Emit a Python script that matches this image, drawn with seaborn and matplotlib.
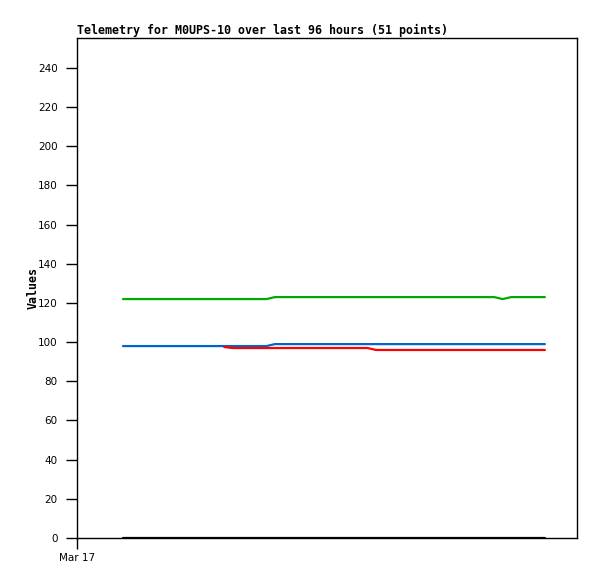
import numpy as np
import pandas as pd
import matplotlib
matplotlib.use("Agg")
import matplotlib.pyplot as plt
import seaborn as sns

# ---- data ----
n_points = 51
hours = [8.83 + i * 1.62 for i in range(n_points)]  # sample times (hours since window start)
green = [122.0] * 18 + [123.0] * 27 + [122.0] + [123.0] * 5
blue = [98.0] * 18 + [99.0] * 33
red = [np.nan] * 12 + [97.5] + [97.0] * 17 + [96.0] * 21
black = [0.0] * 51
series_names = ["s1", "s2", "s3", "s4"]
series_values = [green, blue, red, black]
series_colors = ["#00aa00", "#0066cc", "#ff0000", "#000000"]
y_ticks = list(range(0, 241, 20))
x_tick_label = "Mar 17"
title = "Telemetry for M0UPS-10 over last 96 hours (51 points)"

rows = []
for name, vals in zip(series_names, series_values):
    for h, v in zip(hours, vals):
        rows.append({"hour": h, "value": v, "series": name})
df = pd.DataFrame(rows)

sns.set_style("white")
plt.rcParams["text.color"] = "black"
plt.rcParams["axes.labelcolor"] = "black"
plt.rcParams["xtick.color"] = "black"
plt.rcParams["ytick.color"] = "black"

fig = plt.figure(figsize=(5.97, 5.79), dpi=100)
ax = fig.add_axes([77 / 597, 41 / 579, 500 / 597, 500 / 579])

sns.lineplot(data=df, x="hour", y="value", hue="series",
             palette=dict(zip(series_names, series_colors)),
             linewidth=1.6, legend=False, ax=ax, estimator=None)

ax.set_xlim(0, 96)
ax.set_ylim(0, 255.3)
ax.set_yticks(y_ticks)
ax.set_yticklabels([str(t) for t in y_ticks], fontsize=7.5, family="DejaVu Sans")
ax.set_xticks([0])
ax.set_xticklabels([x_tick_label], fontsize=7.5, family="DejaVu Sans")
ax.tick_params(axis="y", direction="out", length=8, width=1, colors="black", pad=6, left=True)
ax.tick_params(axis="x", direction="out", length=8, width=1, colors="black", pad=3, bottom=True)
for s in ax.spines.values():
    s.set_color("black")
    s.set_linewidth(1)
ax.set_xlabel("")
ax.set_ylabel("Values", fontsize=8.4, family="DejaVu Sans Mono", fontweight="bold",
              labelpad=-1, color="black")
ax.set_title(title, loc="left", fontsize=8.4, family="DejaVu Sans Mono", fontweight="bold",
             pad=3, color="black")

fig.savefig("out.png", dpi=100)
